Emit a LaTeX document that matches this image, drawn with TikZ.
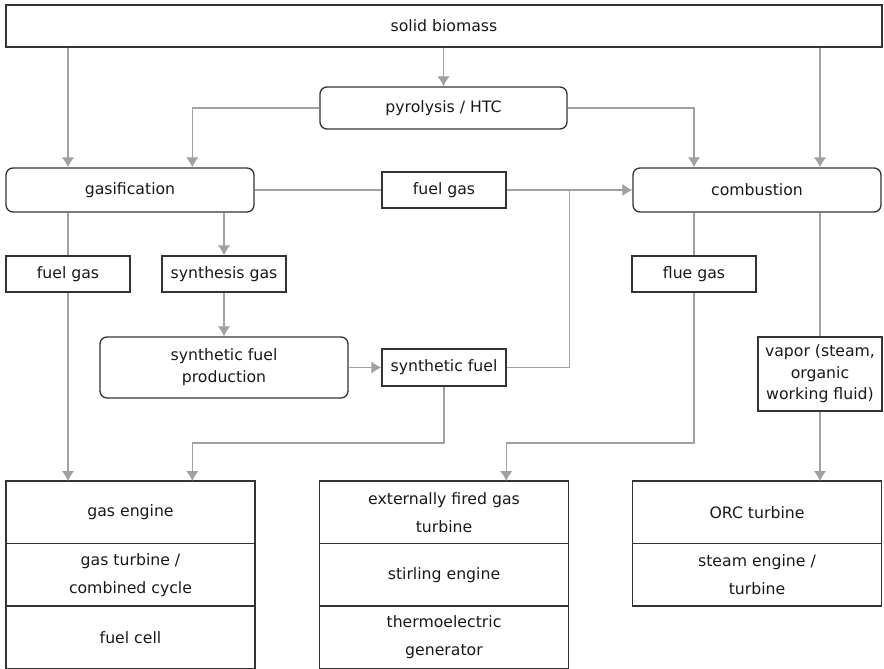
\documentclass[tikz,border=0pt]{standalone}
\usepackage{fontspec}
\setmainfont{DejaVu Sans}
\usetikzlibrary{arrows.meta,positioning,calc}

\begin{document}
\begin{tikzpicture}[x=1pt, y=-1pt, >={Latex[length=10pt,width=12.5pt]},
    box/.style={draw=black!80, line width=1.3pt, text=black!90, align=center, inner sep=2pt, font=\fontsize{15.7}{22}\selectfont},
    proc/.style={box, rounded corners=7pt, minimum width=248pt, minimum height=44pt},
    medium/.style={box, minimum width=124pt, minimum height=36pt},
    unit/.style={box, outer sep=0pt, minimum width=249pt, minimum height=62.5pt, font=\fontsize{15.7}{28}\selectfont},
    flow/.style={draw=black!37, line width=1.2pt},
]
\useasboundingbox (0,0) rectangle (884,669);

% processes
\node[box, minimum width=876pt, minimum height=42pt] (bio) at (444,26) {solid biomass};
\node[proc, minimum width=247pt, minimum height=42pt] (pyro) at (443.5,108) {pyrolysis / HTC};
\node[proc] (gasif) at (130,190) {gasification};
\node[proc] (comb) at (757,190) {combustion};
\node[proc, minimum height=61pt] (sfp) at (224,367.5) {synthetic fuel\\production};

% intermediate products
\node[medium] (fgas) at (444,190) {fuel gas};
\node[medium] (fgasl) at (68,274) {fuel gas};
\node[medium] (syng) at (224,274) {synthesis gas};
\node[medium] (flue) at (694,274) {flue gas};
\node[medium, minimum height=37pt] (sfuel) at (444,367.5) {synthetic fuel};
\node[medium, minimum height=74pt, font=\fontsize{15.7}{21.5}\selectfont] (vap) at (820,374) {vapor (steam,\\organic\\working fluid)};

% conversion units
\node[unit, anchor=north] (ge) at (130.5,481) {gas engine};
\node[unit, below=0pt of ge] (gt) {gas turbine /\\combined cycle};
\node[unit, below=0pt of gt] (fc) {fuel cell};

\node[unit, anchor=north] (ef) at (444,481) {externally fired gas\\turbine};
\node[unit, below=0pt of ef] (st) {stirling engine};
\node[unit, below=0pt of st] (te) {thermoelectric\\generator};

\node[unit, anchor=north] (orc) at (757,481) {ORC turbine};
\node[unit, below=0pt of orc] (se) {steam engine /\\turbine};

% helper points
\coordinate (xb) at ($(gasif.west)!0.75!(gasif.east)$);
\coordinate (xe) at ($(ef.west)!0.75!(ef.east)$);
\coordinate (jn) at ($(fgas.east)!0.5!(comb.west)$);
\coordinate (bend) at (0,443);

% connectors
\draw[flow,->] (bio.south -| fgasl) -- (gasif.north -| fgasl);
\draw[flow,->] (bio.south -| pyro) -- (pyro.north);
\draw[flow,->] (bio.south -| vap) -- (comb.north -| vap);
\draw[flow,->] (pyro.west) -| (gasif.north -| xb);
\draw[flow,->] (pyro.east) -| (comb.north -| flue);
\draw[flow] (gasif) -- (fgas);
\draw[flow,->] (fgas) -- (comb);
\draw[flow] (gasif.south -| fgasl) -- (fgasl.north);
\draw[flow,->] (fgasl.south) -- (ge.north -| fgasl);
\draw[flow,->] (gasif.south -| syng) -- (syng.north);
\draw[flow,->] (syng) -- (sfp);
\draw[flow,->] (sfp) -- (sfuel);
\draw[flow] (sfuel.east) -| (jn);
\draw[flow,->] (sfuel.south) |- (bend -| xb) -- (ge.north -| xb);
\draw[flow] (comb.south -| flue) -- (flue.north);
\draw[flow,->] (flue.south) |- (bend -| xe) -- (ef.north -| xe);
\draw[flow] (comb.south -| vap) -- (vap.north);
\draw[flow,->] (vap.south) -- (orc.north -| vap);

\end{tikzpicture}
\end{document}
